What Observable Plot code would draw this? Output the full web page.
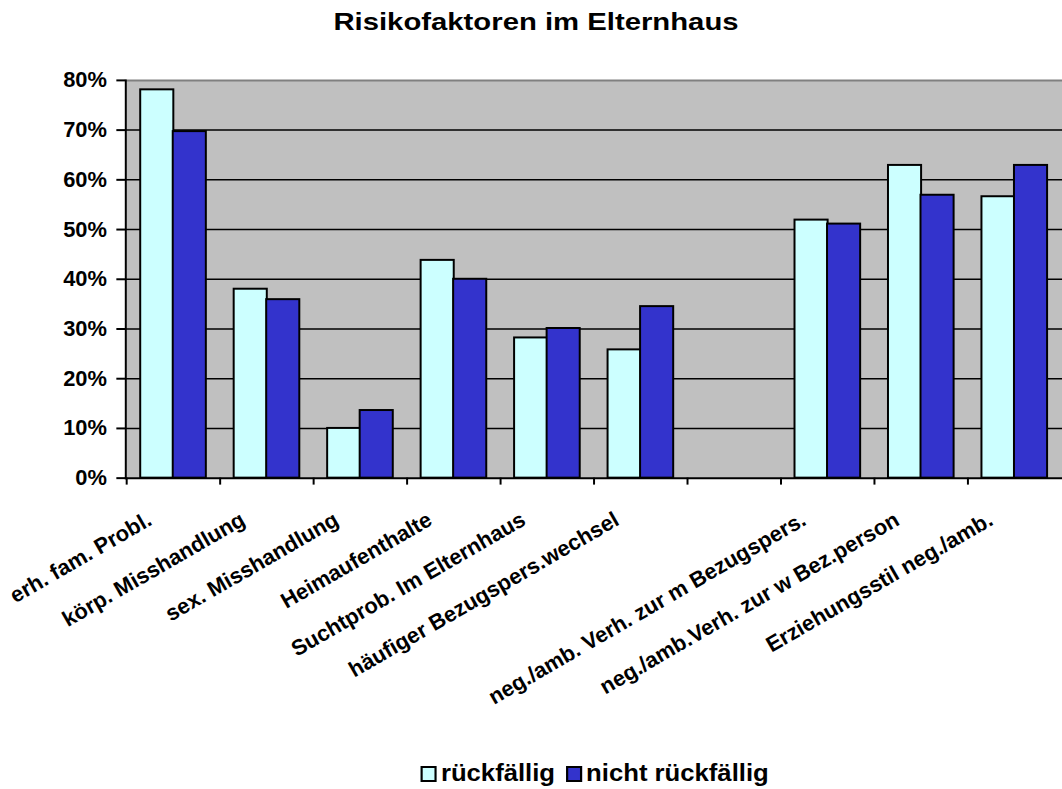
<!DOCTYPE html>
<html>
<head>
<meta charset="utf-8">
<script src="https://cdn.jsdelivr.net/npm/d3@7"></script>
<script src="https://cdn.jsdelivr.net/npm/@observablehq/plot@0.6"></script>
<style>
  html, body { margin: 0; padding: 0; background: white; overflow: hidden; }
  body { width: 1062px; height: 789px; position: relative; font-family: "Liberation Sans", Arial, sans-serif; font-weight: bold; color: black; }
  #title { position: absolute; left: 536px; top: 10px; font-size: 24px; line-height: 24px; white-space: nowrap; transform: translateX(-50%) scaleX(1.22); }
  #chart { position: absolute; left: 0; top: 62px; }
  #legend { position: absolute; left: 600px; top: 761px; font-size: 24px; line-height: 24px; white-space: nowrap; transform: translateX(-50%) scaleX(1.07); display: flex; align-items: center; }
  .sw { display: inline-block; width: 15px; height: 16px; border: 2px solid black; margin-right: 4px; box-sizing: border-box; position: relative; top: 1px; }
  .item { display: inline-flex; align-items: center; margin-right: 10px; }
</style>
</head>
<body>
<div id="title">Risikofaktoren im Elternhaus</div>
<div id="chart"></div>
<div id="legend"></div>
<script>
// ---- data ----
const categories = [
  "erh. fam. Probl.",
  "körp. Misshandlung",
  "sex. Misshandlung",
  "Heimaufenthalte",
  "Suchtprob. Im Elternhaus",
  "häufiger Bezugspers.wechsel",
  "",
  "neg./amb. Verh. zur m Bezugspers.",
  "neg./amb.Verh. zur w Bez.person",
  "Erziehungsstil neg./amb."
];
const seriesNames = ["rückfällig", "nicht rückfällig"];
const rueckfaellig      = [78.1, 38.0, 10.0, 43.8, 28.2, 25.8, null, 51.9, 62.9, 56.6];
const nichtRueckfaellig = [69.7, 35.9, 13.6, 40.0, 30.1, 34.5, null, 51.1, 56.9, 62.9];
const yTicks = [0, 10, 20, 30, 40, 50, 60, 70, 80];
const colors = ["#CCFFFF", "#3333CC"];

// ---- build table ----
const rows = [];
categories.forEach((c, i) => {
  if (rueckfaellig[i] != null) rows.push({cat: c, series: seriesNames[0], value: rueckfaellig[i]});
  if (nichtRueckfaellig[i] != null) rows.push({cat: c, series: seriesNames[1], value: nichtRueckfaellig[i]});
});

const W = 1068, H = 678, mL = 126, mR = 0, mT = 18, mB = 260;
const step = (W - mL - mR) / categories.length;
const inNear = 14, inFar = step - 14 - 33.5;

const chart = Plot.plot({
  width: W,
  height: H,
  marginLeft: mL,
  marginRight: mR,
  marginTop: mT,
  marginBottom: mB,
  x: {type: "band", domain: categories, padding: 0, axis: null},
  y: {domain: [0, 80], axis: null},
  style: {fontFamily: "'Liberation Sans', Arial, sans-serif", fontWeight: "bold", color: "black", background: "white", overflow: "visible"},
  marks: [
    Plot.frame({fill: "#C0C0C0", stroke: null}),
    Plot.ruleY(yTicks.filter(t => t > 0 && t < 80), {stroke: "black", strokeWidth: 1.5}),
    Plot.barY(rows.filter(d => d.series === seriesNames[0]), {x: "cat", y: "value", fill: colors[0], stroke: "black", strokeWidth: 2, insetLeft: inNear, insetRight: inFar}),
    Plot.barY(rows.filter(d => d.series === seriesNames[1]), {x: "cat", y: "value", fill: colors[1], stroke: "black", strokeWidth: 2, insetLeft: inFar, insetRight: inNear}),
    Plot.ruleY([80], {stroke: "#808080", strokeWidth: 2}),
    Plot.frame({anchor: "left", stroke: "black", strokeWidth: 2}),
    Plot.frame({anchor: "bottom", stroke: "black", strokeWidth: 2}),
    Plot.axisY({ticks: yTicks, tickSize: 9, tickPadding: 10, strokeWidth: 2, fontSize: 22, tickFormat: d => d + "%", label: null}),
    Plot.axisX({ticks: categories, tickSize: 7, strokeWidth: 2, dx: -step / 2, tickFormat: () => "", label: null}),
    Plot.axisX({ticks: categories, tickSize: 0, tickRotate: -30, tickPadding: 40, fontSize: 22, dx: -24, label: null})
  ]
});
document.getElementById("chart").appendChild(chart);

// ---- legend ----
const lg = document.getElementById("legend");
seriesNames.forEach((s, i) => {
  const it = document.createElement("span");
  it.className = "item";
  const sw = document.createElement("span");
  sw.className = "sw";
  sw.style.background = colors[i];
  it.appendChild(sw);
  it.appendChild(document.createTextNode(s));
  lg.appendChild(it);
});
</script>
</body>
</html>
